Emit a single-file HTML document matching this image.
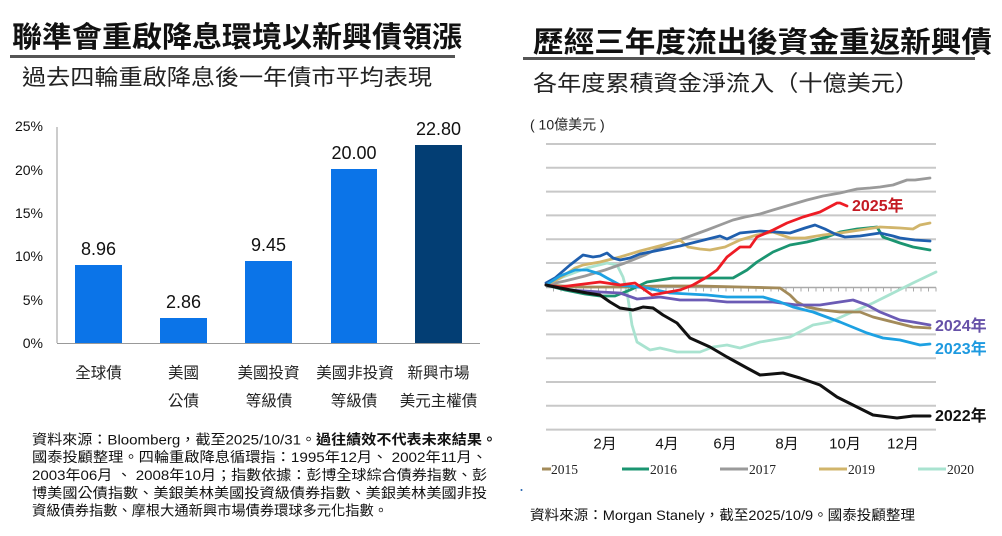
<!DOCTYPE html>
<html><head><meta charset="utf-8">
<style>
html,body{margin:0;padding:0;background:#fff;}
svg{display:block;}
text{font-family:"Liberation Sans","Noto Sans CJK TC",sans-serif;}
.serif{font-family:"Liberation Serif","Noto Serif CJK SC",serif;}
</style></head>
<body>
<svg width="1002" height="536" viewBox="0 0 1002 536" xmlns="http://www.w3.org/2000/svg">
<rect width="1002" height="536" fill="#fff"/>

<!-- LEFT TITLE -->
<text x="12" y="47" font-size="29" font-weight="bold" fill="#111" textLength="450" lengthAdjust="spacingAndGlyphs">聯準會重啟降息環境以新興債領漲</text>
<rect x="10" y="55" width="445" height="3" fill="#555"/>
<text x="22" y="85" font-size="22" fill="#222" textLength="410" lengthAdjust="spacingAndGlyphs">過去四輪重啟降息後一年債市平均表現</text>

<!-- LEFT CHART -->
<g font-size="14" fill="#111" text-anchor="end">
<text x="43" y="131">25%</text>
<text x="43" y="175">20%</text>
<text x="43" y="218">15%</text>
<text x="43" y="261">10%</text>
<text x="43" y="305">5%</text>
<text x="43" y="348">0%</text>
</g>
<line x1="57" y1="127" x2="57" y2="343" stroke="#999" stroke-width="1"/>
<rect x="75" y="265" width="47" height="78" fill="#0b74e8"/>
<rect x="160" y="318" width="47" height="25" fill="#0b74e8"/>
<rect x="245" y="261" width="47" height="82" fill="#0b74e8"/>
<rect x="331" y="169" width="46" height="174" fill="#0b74e8"/>
<rect x="415" y="145" width="47" height="198" fill="#033e74"/>
<line x1="57" y1="343.5" x2="480" y2="343.5" stroke="#999" stroke-width="1"/>
<g font-size="18" fill="#111" text-anchor="middle">
<text x="98.5" y="255">8.96</text>
<text x="183.5" y="308">2.86</text>
<text x="268.5" y="251">9.45</text>
<text x="354" y="159">20.00</text>
<text x="438.5" y="135">22.80</text>
</g>
<g font-size="15.5" fill="#222" text-anchor="middle">
<text x="98.5" y="378">全球債</text>
<text x="183.5" y="378">美國</text>
<text x="268.5" y="378">美國投資</text>
<text x="355" y="378">美國非投資</text>
<text x="438.5" y="378">新興市場</text>
<text x="183.5" y="406">公債</text>
<text x="269" y="406">等級債</text>
<text x="354" y="406">等級債</text>
<text x="438.5" y="406">美元主權債</text>
</g>
<g font-size="14" fill="#111">
<text x="32" y="444.5" textLength="465" lengthAdjust="spacingAndGlyphs">資料來源：Bloomberg，截至2025/10/31。<tspan font-weight="bold">過往績效不代表未來結果。</tspan></text>
<text x="32" y="462" textLength="455" lengthAdjust="spacingAndGlyphs">國泰投顧整理。四輪重啟降息循環指：1995年12月、 2002年11月、</text>
<text x="32" y="480" textLength="455" lengthAdjust="spacingAndGlyphs">2003年06月 、 2008年10月；指數依據：彭博全球綜合債券指數、彭</text>
<text x="32" y="498" textLength="455" lengthAdjust="spacingAndGlyphs">博美國公債指數、美銀美林美國投資級債券指數、美銀美林美國非投</text>
<text x="32" y="515.5" textLength="356" lengthAdjust="spacingAndGlyphs">資級債券指數、摩根大通新興市場債券環球多元化指數。</text>
</g>

<!-- RIGHT TITLE -->
<text x="533" y="52" font-size="29" font-weight="bold" fill="#111" textLength="459" lengthAdjust="spacingAndGlyphs">歷經三年度流出後資金重返新興債</text>
<rect x="523" y="57" width="452" height="3" fill="#555"/>
<text x="533" y="91" font-size="22" fill="#222" textLength="386" lengthAdjust="spacingAndGlyphs">各年度累積資金淨流入（十億美元）</text>
<text x="530" y="129.5" font-size="14" fill="#222">(  10億美元 )</text>

<!-- RIGHT CHART GRID -->
<g stroke="#c8c8c8" stroke-width="2">
<line x1="546" y1="144" x2="936" y2="144"/>
<line x1="546" y1="167.8" x2="936" y2="167.8"/>
<line x1="546" y1="191.6" x2="936" y2="191.6"/>
<line x1="546" y1="215.4" x2="936" y2="215.4"/>
<line x1="546" y1="239.2" x2="936" y2="239.2"/>
<line x1="546" y1="263" x2="936" y2="263"/>
<line x1="546" y1="310.6" x2="936" y2="310.6"/>
<line x1="546" y1="334.4" x2="936" y2="334.4"/>
<line x1="546" y1="358.2" x2="936" y2="358.2"/>
<line x1="546" y1="382" x2="936" y2="382"/>
<line x1="546" y1="405.8" x2="936" y2="405.8"/>
<line x1="546" y1="429.6" x2="936" y2="429.6"/>
</g>
<line x1="546" y1="287.5" x2="936" y2="287.5" stroke="#aaa" stroke-width="1.5"/>
<path stroke="#aaa" stroke-width="1" d="M553.5 287.5v4M561 287.5v4M568.5 287.5v4M576 287.5v4M583.5 287.5v4M591 287.5v4M598.5 287.5v4M606 287.5v4M613.5 287.5v4M621 287.5v4M628.5 287.5v4M636 287.5v4M643.5 287.5v4M651 287.5v4M658.5 287.5v4M666 287.5v4M673.5 287.5v4M681 287.5v4M688.5 287.5v4M696 287.5v4M703.5 287.5v4M711 287.5v4M718.5 287.5v4M726 287.5v4M733.5 287.5v4M741 287.5v4M748.5 287.5v4M756 287.5v4M763.5 287.5v4M771 287.5v4M778.5 287.5v4M786 287.5v4M793.5 287.5v4M801 287.5v4M808.5 287.5v4M816 287.5v4M823.5 287.5v4M831 287.5v4M838.5 287.5v4M846 287.5v4M853.5 287.5v4M861 287.5v4M868.5 287.5v4M876 287.5v4M883.5 287.5v4M891 287.5v4M898.5 287.5v4M906 287.5v4M913.5 287.5v4M921 287.5v4M928.5 287.5v4M936 287.5v4"/>

<!-- SERIES -->
<g fill="none" stroke-width="2.8" stroke-linejoin="round" stroke-linecap="round">
<polyline stroke="#a9e3d0" points="546,285 563,277 587,268 607,263 617,265 623,277 627,292 632,325 637,342 650,350 660,348 677,352 700,352 713,347 727,345 740,348 760,342 790,337 813,325 830,322 850,313 873,303 893,293 913,283 936,272"/>
<polyline stroke="#a38b5a" points="546,285 580,287 620,287 660,286 700,286 740,287 780,288 790,295 797,302 807,307 823,310 840,312 860,312 873,317 893,322 913,327 930,328"/>
<polyline stroke="#1b9571" points="546,285 565,290 585,294 600,296 615,296 630,290 647,282 673,278 707,278 733,278 747,270 757,262 773,252 790,245 807,242 827,237 840,232 857,229 877,227 883,237 900,243 913,247 930,250"/>
<polyline stroke="#9a9a9a" points="546,285 565,281 585,276 605,270 625,263 645,255 665,245 685,238 707,230 720,225 733,220 745,217 760,214 773,210 790,205 807,200 823,196 840,193 857,189 870,188 880,187 893,185 907,180 915,180 930,178"/>
<polyline stroke="#d1b56b" points="546,285 560,278 575,268 583,265 600,262 620,257 640,251 663,245 680,240 688,247 700,249 710,250 725,247 740,240 757,235 773,232 790,238 805,238 823,235 840,233 860,230 880,227 900,228 913,229 920,225 930,223"/>
<polyline stroke="#1f5fae" points="546,283 555,278 570,265 583,255 593,257 600,256 607,253 613,258 620,260 630,258 640,254 660,250 680,246 700,241 712,238 720,236 727,239 740,233 760,231 790,233 805,228 815,225 825,229 835,234 845,237 860,236 880,233 893,236 900,238 915,240 930,241"/>
<polyline stroke="#6b5bb5" points="546,285 570,290 600,292 620,293 637,299 660,297 680,300 707,300 727,302 773,302 797,305 820,305 833,303 853,300 867,305 880,312 900,320 913,322 930,325"/>
<polyline stroke="#1da1e2" points="546,285 560,276 575,270 587,270 600,274 607,278 620,285 647,288 670,293 707,295 727,297 763,297 780,302 793,307 813,312 840,322 867,333 883,338 900,340 920,345 930,344"/>
<polyline stroke="#ee1c25" points="546,285 560,287 600,282 620,285 635,283 652,295 663,293 680,290 693,285 707,277 717,270 727,257 740,247 750,247 757,237 773,230 787,223 803,217 820,212 837,203 840,203 847,206"/>
<polyline stroke="#111" stroke-width="3" points="546,285 560,288 587,293 600,295 610,302 620,308 633,310 643,307 653,308 663,315 677,323 690,338 710,347 727,357 747,368 760,375 783,373 800,378 820,385 837,397 853,405 873,415 897,418 913,416 930,416"/>
</g>

<g font-size="16" font-weight="bold">
<text x="852" y="211" fill="#c41a23">2025年</text>
<text x="935" y="331" fill="#6651a8">2024年</text>
<text x="935" y="354" fill="#1e9ae0">2023年</text>
<text x="935" y="421" fill="#111">2022年</text>
</g>

<g font-size="15" fill="#111" text-anchor="middle">
<text x="605" y="448.5">2月</text>
<text x="667" y="448.5">4月</text>
<text x="725" y="448.5">6月</text>
<text x="787" y="448.5">8月</text>
<text x="845" y="448.5">10月</text>
<text x="903" y="448.5">12月</text>
</g>

<!-- LEGEND -->
<g stroke-width="3">
<line x1="542" y1="469" x2="551" y2="469" stroke="#a38b5a"/>
<line x1="622" y1="469" x2="649" y2="469" stroke="#1b9571"/>
<line x1="720" y1="469" x2="748" y2="469" stroke="#9a9a9a"/>
<line x1="819" y1="469" x2="847" y2="469" stroke="#d1b56b"/>
<line x1="918" y1="469" x2="946" y2="469" stroke="#a9e3d0"/>
</g>
<g font-size="13.5" fill="#222">
<text class="serif" x="551" y="474">2015</text>
<text class="serif" x="650" y="474">2016</text>
<text class="serif" x="749" y="474">2017</text>
<text class="serif" x="848" y="474">2019</text>
<text class="serif" x="947" y="474">2020</text>
</g>
<circle cx="521.5" cy="490" r="1" fill="#1f5fae"/>

<text x="530" y="520" font-size="14" fill="#111" textLength="385" lengthAdjust="spacingAndGlyphs">資料來源：Morgan Stanely，截至2025/10/9。國泰投顧整理</text>
</svg>
</body></html>
